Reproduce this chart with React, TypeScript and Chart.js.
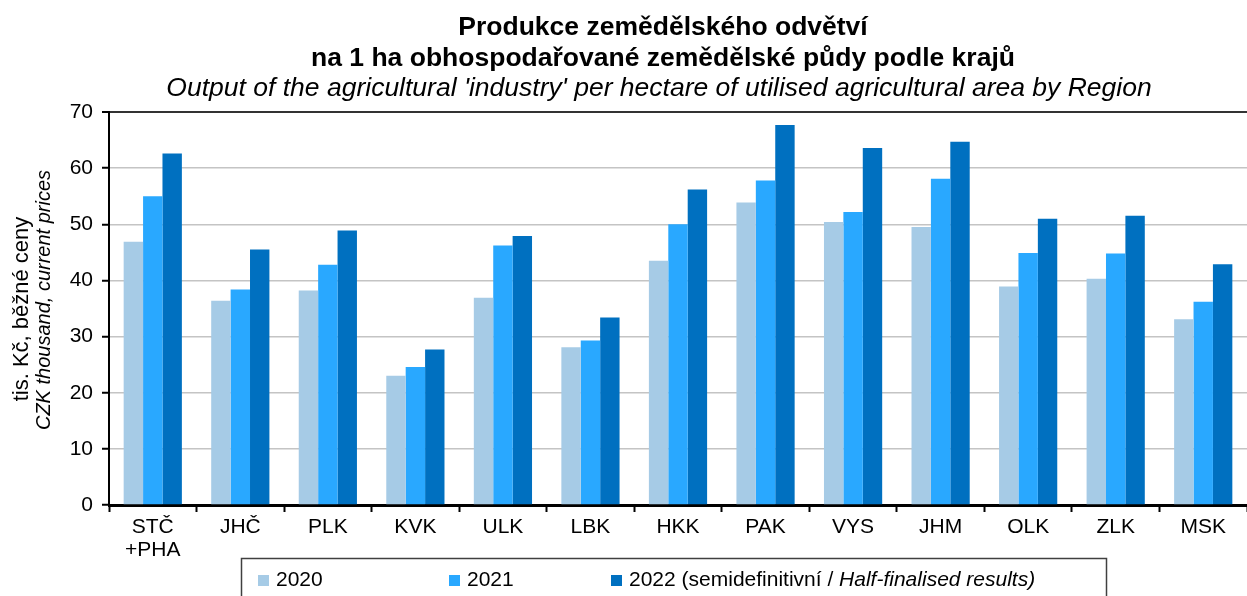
import React, { useEffect, useRef } from "react";
import { Chart, registerables } from "chart.js";

Chart.register(...registerables);

const categories: (string | string[])[] = [
  ["STČ", "+PHA"], "JHČ", "PLK", "KVK", "ULK", "LBK", "HKK", "PAK", "VYS", "JHM", "OLK", "ZLK", "MSK",
];
const values2020 = [46.9, 36.4, 38.2, 23.0, 36.9, 28.1, 43.5, 53.9, 50.4, 49.5, 38.9, 40.3, 33.1];
const values2021 = [55.0, 38.4, 42.8, 24.6, 46.2, 29.3, 50.0, 57.8, 52.2, 58.1, 44.9, 44.8, 36.2];
const values2022 = [62.6, 45.5, 48.9, 27.7, 47.9, 33.4, 56.2, 67.7, 63.6, 64.7, 51.0, 51.5, 42.9];
const seriesLabels = ["2020", "2021", "2022"];
const seriesColors = ["#A6CBE6", "#29A8FF", "#0070C0"];
const titleLines = [
  "Produkce zemědělského odvětví",
  "na 1 ha obhospodařované zemědělské půdy podle krajů",
  "Output of the agricultural 'industry' per hectare of utilised agricultural area by Region",
];
const yTitleLines = ["tis. Kč, běžné ceny", "CZK thousand, current prices"];
const legendNormal = "(semidefinitivní / ";
const legendItalic = "Half-finalised results)";

const FONT = "'Liberation Sans', Arial, sans-serif";

const decorPlugin = {
  id: "decor",
  afterDraw(chart: any) {
    const ctx = chart.ctx as CanvasRenderingContext2D;
    ctx.save();
    ctx.fillStyle = "#000";
    ctx.textAlign = "center";
    ctx.textBaseline = "alphabetic";
    ctx.font = `bold 26.5px ${FONT}`;
    ctx.fillText(titleLines[0], 663, 35);
    ctx.fillText(titleLines[1], 663, 65.5);
    ctx.font = `italic 26.5px ${FONT}`;
    ctx.fillText(titleLines[2], 659, 96);

    // y-axis title
    ctx.save();
    ctx.translate(22, 309);
    ctx.rotate(-Math.PI / 2);
    ctx.textBaseline = "middle";
    ctx.font = `22px ${FONT}`;
    ctx.fillText(yTitleLines[0], 0, 0);
    ctx.restore();
    ctx.save();
    ctx.translate(44, 300);
    ctx.rotate(-Math.PI / 2);
    ctx.textBaseline = "middle";
    ctx.font = `italic 20px ${FONT}`;
    ctx.fillText(yTitleLines[1], 0, 0);
    ctx.restore();

    // legend
    ctx.strokeStyle = "#404040";
    ctx.lineWidth = 1.5;
    ctx.strokeRect(241.5, 558.5, 865, 60);
    const items = [
      { x: 258, color: seriesColors[0], label: seriesLabels[0] },
      { x: 449, color: seriesColors[1], label: seriesLabels[1] },
      { x: 611, color: seriesColors[2], label: seriesLabels[2] },
    ];
    const ly = 580;
    ctx.textAlign = "left";
    ctx.textBaseline = "middle";
    items.forEach((it, i) => {
      ctx.fillStyle = it.color;
      ctx.fillRect(it.x, ly - 5, 11, 11);
      ctx.fillStyle = "#000";
      ctx.font = `21px ${FONT}`;
      let tx = it.x + 18;
      let text = it.label;
      if (i === 2) text = it.label + " " + legendNormal;
      ctx.fillText(text, tx, ly);
      if (i === 2) {
        tx += ctx.measureText(text).width;
        ctx.font = `italic 21px ${FONT}`;
        ctx.fillText(legendItalic, tx, ly);
      }
    });
    ctx.restore();
  },
};

export default function App() {
  const ref = useRef<HTMLCanvasElement | null>(null);
  useEffect(() => {
    document.body.style.margin = "0";
    const canvas = ref.current!;
    const chart = new Chart(canvas, {
      type: "bar",
      data: {
        labels: categories,
        datasets: [values2020, values2021, values2022].map((d, i) => ({
          label: seriesLabels[i],
          data: d,
          backgroundColor: seriesColors[i],
          borderWidth: 0,
          categoryPercentage: 0.665,
          barPercentage: 1.0,
        })),
      },
      options: {
        responsive: false,
        animation: false,
        layout: { padding: { top: 112, right: 0, left: 0, bottom: 0 } },
        plugins: {
          legend: { display: false },
          title: { display: false },
          tooltip: { enabled: false },
        },
        scales: {
          x: {
            afterFit: (scale: any) => {
              scale.height = 91;
            },
            grid: {
              display: true,
              drawOnChartArea: false,
              drawTicks: true,
              tickLength: 7,
              tickColor: "#000",
              tickWidth: 2,
              color: "#000",
              offset: true,
            },
            border: { display: true, color: "#000", width: 3 },
            ticks: {
              color: "#000",
              font: { family: FONT, size: 21, lineHeight: 1.1 },
              padding: 4,
              maxRotation: 0,
              autoSkip: false,
            },
          },
          y: {
            min: 0,
            max: 70,
            afterFit: (scale: any) => {
              scale.width = 109;
            },
            ticks: {
              stepSize: 10,
              color: "#000",
              font: { family: FONT, size: 21 },
              padding: 9,
            },
            grid: {
              color: (c: any) => (c.tick && c.tick.value === 70 ? "#333333" : "#C4C4C4"),
              lineWidth: (c: any) => (c.tick && c.tick.value === 70 ? 2 : 1.5),
              tickColor: "#000",
              tickLength: 7,
              tickWidth: 2,
            },
            border: { display: true, color: "#000", width: 2 },
          },
        },
      },
      plugins: [decorPlugin],
    });
    return () => chart.destroy();
  }, []);
  return (
    <div style={{ width: 1247, height: 596, background: "#fff" }}>
      <canvas ref={ref} width={1247} height={596} style={{ display: "block" }} />
    </div>
  );
}
